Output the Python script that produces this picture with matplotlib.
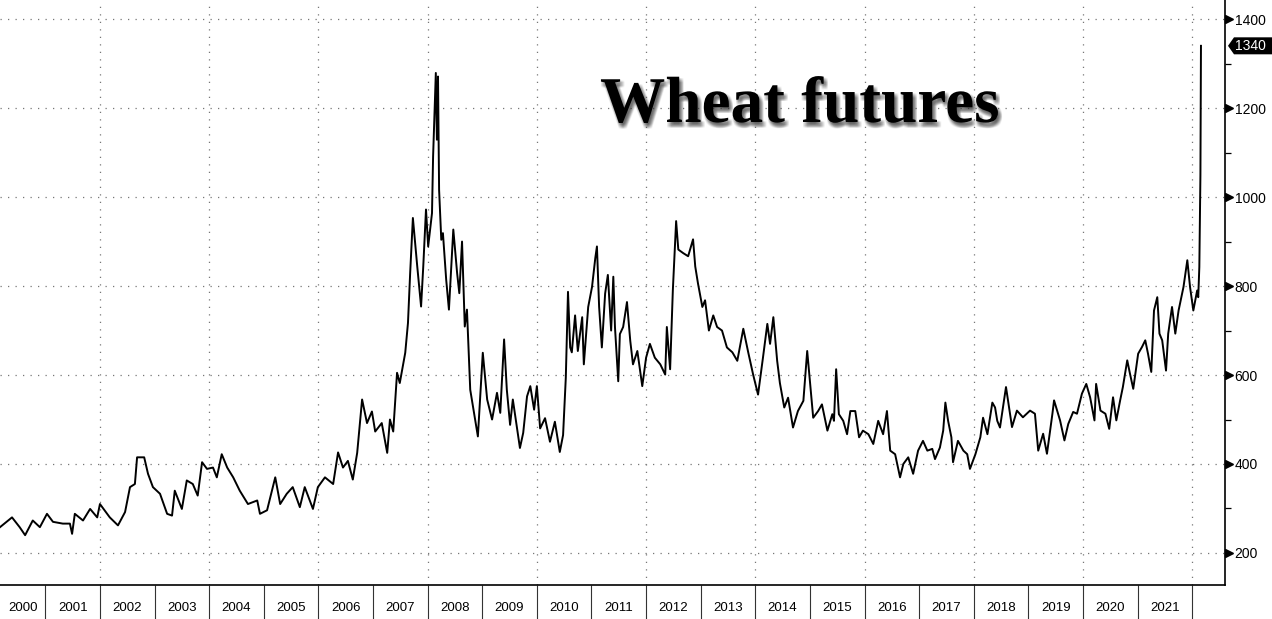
import numpy as np
import matplotlib
matplotlib.use("Agg")
import matplotlib.pyplot as plt
import matplotlib.patheffects as pe
import matplotlib.transforms as mtransforms
from matplotlib.patches import Polygon

# Wheat futures, $ cents / bushel (time in decimal years)
t_2000s = [2000.17, 2000.39, 2000.53, 2000.63, 2000.77, 2000.90, 2001.03, 2001.14, 2001.32, 2001.45,
           2001.49, 2001.54, 2001.69, 2001.82, 2001.95, 2002.00, 2002.18, 2002.33, 2002.46, 2002.55,
           2002.64, 2002.68, 2002.81, 2002.88, 2002.97, 2003.10, 2003.23, 2003.32, 2003.37, 2003.50,
           2003.59, 2003.70, 2003.79, 2003.87, 2003.96, 2004.07, 2004.14, 2004.23, 2004.33, 2004.44,
           2004.56, 2004.71, 2004.88, 2004.93, 2005.06, 2005.21, 2005.30, 2005.42, 2005.53, 2005.66,
           2005.75, 2005.90, 2005.99, 2006.12, 2006.27, 2006.36, 2006.45, 2006.54, 2006.63, 2006.71,
           2006.80, 2006.89, 2006.98]
p_2000s = [258, 280, 258, 240, 273, 258, 288, 270, 266, 266,
           243, 288, 273, 299, 280, 310, 280, 262, 292, 348,
           355, 415, 415, 378, 348, 333, 288, 284, 340, 299,
           363, 355, 329, 404, 389, 392, 370, 422, 392, 370,
           340, 310, 318, 288, 296, 370, 310, 333, 348, 303,
           348, 299, 348, 370, 355, 426, 392, 407, 365, 425,
           545, 492, 518]

t_crisis = [2007.04, 2007.16, 2007.26, 2007.31, 2007.37, 2007.44, 2007.49, 2007.59, 2007.64, 2007.68,
            2007.73, 2007.81, 2007.88, 2007.92, 2007.97, 2008.01, 2008.08, 2008.10, 2008.15, 2008.17,
            2008.19, 2008.21, 2008.25, 2008.28, 2008.34, 2008.39, 2008.47, 2008.54, 2008.58, 2008.63,
            2008.68, 2008.72, 2008.78, 2008.83, 2008.92, 2009.01, 2009.09, 2009.18, 2009.27, 2009.33,
            2009.40, 2009.45, 2009.51, 2009.56, 2009.69, 2009.75, 2009.82, 2009.88, 2009.95]
p_crisis = [473, 492, 425, 500, 473, 605, 582, 650, 717, 829,
            953, 844, 754, 844, 972, 889, 964, 1091, 1279, 1129,
            1271, 1016, 904, 919, 814, 747, 927, 829, 784, 900,
            709, 747, 567, 530, 462, 650, 545, 500, 560, 515,
            680, 567, 488, 545, 436, 470, 552, 575, 522]

t_2010s = [2010.00, 2010.06, 2010.15, 2010.24, 2010.33, 2010.42, 2010.48, 2010.53, 2010.57, 2010.61,
           2010.64, 2010.70, 2010.75, 2010.83, 2010.86, 2010.94, 2011.01, 2011.07, 2011.10, 2011.14,
           2011.19, 2011.25, 2011.30, 2011.36, 2011.40, 2011.43, 2011.49, 2011.52, 2011.58, 2011.65,
           2011.71, 2011.76, 2011.84, 2011.93, 2012.00, 2012.07, 2012.16, 2012.26, 2012.35, 2012.38,
           2012.44, 2012.49, 2012.55, 2012.59, 2012.68, 2012.77, 2012.86, 2012.90, 2012.95, 2013.03,
           2013.08, 2013.15, 2013.23, 2013.30, 2013.39, 2013.48, 2013.58, 2013.67, 2013.78, 2013.87,
           2013.96, 2014.05, 2014.14, 2014.22, 2014.27, 2014.33, 2014.40, 2014.45, 2014.53, 2014.60,
           2014.69, 2014.78, 2014.88, 2014.95]
p_2010s = [575, 480, 503, 450, 495, 427, 465, 594, 787, 662,
           651, 734, 654, 730, 624, 753, 798, 863, 889, 753,
           662, 783, 825, 700, 821, 708, 586, 692, 708, 764,
           677, 624, 654, 575, 639, 670, 639, 624, 601, 708,
           613, 791, 946, 882, 874, 867, 905, 844, 806, 753,
           768, 700, 734, 708, 700, 662, 651, 632, 704, 651,
           601, 556, 639, 715, 670, 730, 632, 582, 527, 549,
           482, 519, 542, 654]

t_late10s = [2015.00, 2015.06, 2015.15, 2015.22, 2015.32, 2015.41, 2015.44, 2015.48, 2015.53, 2015.61,
             2015.68, 2015.74, 2015.83, 2015.90, 2015.97, 2016.07, 2016.16, 2016.25, 2016.34, 2016.41,
             2016.47, 2016.56, 2016.65, 2016.71, 2016.80, 2016.89, 2016.98, 2017.07, 2017.15, 2017.24,
             2017.29, 2017.38, 2017.44, 2017.48, 2017.53, 2017.59, 2017.62, 2017.71, 2017.81, 2017.88,
             2017.93, 2018.03, 2018.12, 2018.17, 2018.25, 2018.34, 2018.39, 2018.43, 2018.48, 2018.59,
             2018.70, 2018.79, 2018.90, 2019.03, 2019.12, 2019.18, 2019.27, 2019.34, 2019.44, 2019.47,
             2019.58, 2019.66, 2019.73, 2019.82, 2019.89, 2019.98]
p_late10s = [587, 504, 519, 534, 475, 512, 497, 613, 512, 497,
             467, 519, 519, 460, 475, 467, 445, 497, 467, 519,
             430, 422, 370, 400, 415, 378, 430, 452, 430, 434,
             411, 437, 475, 538, 497, 460, 404, 452, 430, 422,
             389, 422, 460, 504, 467, 538, 527, 497, 482, 573,
             483, 520, 505, 520, 513, 430, 468, 423, 513, 543,
             498, 453, 490, 517, 513, 558]

t_2020s = [2020.06, 2020.13, 2020.21, 2020.24, 2020.32, 2020.41, 2020.48, 2020.55, 2020.61, 2020.68,
           2020.73, 2020.81, 2020.86, 2020.92, 2021.01, 2021.08, 2021.14, 2021.19, 2021.25, 2021.30,
           2021.36, 2021.40, 2021.45, 2021.49, 2021.52, 2021.56, 2021.63, 2021.69, 2021.75, 2021.84,
           2021.91, 2021.96, 2022.02, 2022.09, 2022.11, 2022.13, 2022.14, 2022.15, 2022.16]
p_2020s = [580, 550, 498, 580, 520, 513, 479, 550, 498, 543,
           573, 633, 603, 569, 648, 663, 678, 648, 607, 745,
           775, 693, 678, 640, 610, 693, 753, 693, 745, 798,
           858, 798, 745, 790, 775, 843, 944, 1050, 1340]

last_price = 1340
y_ticks = [200, 400, 600, 800, 1000, 1200, 1400]
year_labels = list(range(2000, 2022))

t = np.concatenate([t_2000s, t_crisis, t_2010s, t_late10s, t_2020s])
price = np.concatenate([p_2000s, p_crisis, p_2010s, p_late10s, p_2020s])

W, H = 1272, 619
fig = plt.figure(figsize=(W / 100, H / 100), dpi=100)
ax = fig.add_axes([0, 34 / H, 1225 / W, 585 / H])
x0, x1 = 2000.17, 2022.60
ax.set_xlim(x0, x1)
ax.set_ylim(128, 1443)

grid_kw = dict(color='#777777', lw=0.9, ls=(0, (1, 5)), zorder=1)
for y in y_ticks:
    ax.axhline(y, **grid_kw)
for yr in range(2002, 2023, 2):
    ax.axvline(yr, **grid_kw)

ax.plot(t, price, color='black', lw=1.4, zorder=3)

for s in ['left', 'top']:
    ax.spines[s].set_visible(False)
for s in ['right', 'bottom']:
    ax.spines[s].set_linewidth(1.2)
    ax.spines[s].set_color('black')

# right axis with arrow ticks
ax.yaxis.tick_right()
ax.set_yticks(y_ticks)
ax.set_yticks(range(300, 1400, 200), minor=True)
ax.tick_params(axis='y', which='major', length=0, pad=7, labelsize=10)
ax.tick_params(axis='y', which='minor', length=4, width=0.9, direction='out')
for lab in ax.get_yticklabels():
    lab.set_family('Liberation Sans')
tri_tf = mtransforms.offset_copy(ax.get_yaxis_transform(), fig=fig, x=3.5, y=0, units='dots')
ax.plot([1.0] * len(y_ticks), y_ticks, ls='none', marker='>', ms=5.5, color='black',
        transform=tri_tf, clip_on=False)

# year separators and centred year labels
ax.set_xticks(range(2001, 2023))
ax.set_xticklabels([])
ax.tick_params(axis='x', which='major', length=25, width=0.8, color='#333333', direction='out')
mids = [(max(y, x0) + y + 1) / 2 for y in year_labels]
ax.set_xticks(mids, minor=True)
ax.set_xticklabels([str(y) for y in year_labels], minor=True, family='Liberation Sans')
ax.tick_params(axis='x', which='minor', length=0, pad=12, labelsize=9.5)

# last price tag: black box with a small notch pointing at the axis
xr, yt = ax.transData.transform((x1, last_price))
tag = Polygon([(xr + 3, yt), (xr + 9, yt + 8.5), (W, yt + 8.5), (W, yt - 8.5), (xr + 9, yt - 8.5)],
              closed=True, fc='black', ec='none', transform=mtransforms.IdentityTransform())
fig.add_artist(tag)
fig.text((xr + 10) / W, yt / H, str(last_price), color='white', fontsize=10,
         family='Liberation Sans', va='center', ha='left')

# title with a soft shadow
shadow = [pe.SimplePatchShadow(offset=(1.5 + dx, -2.5 + dy), shadow_rgbFace='#333333', alpha=0.05)
          for dx in (-1.5, -0.75, 0, 0.75, 1.5) for dy in (-1.5, -0.75, 0, 0.75, 1.5)]
fig.text(600 / W, 1 - 122 / H, 'Wheat futures', family='Liberation Serif', weight='bold',
         size=47, va='baseline', ha='left', path_effects=shadow + [pe.Normal()])

fig.savefig('out.png', dpi=100, facecolor='white')
